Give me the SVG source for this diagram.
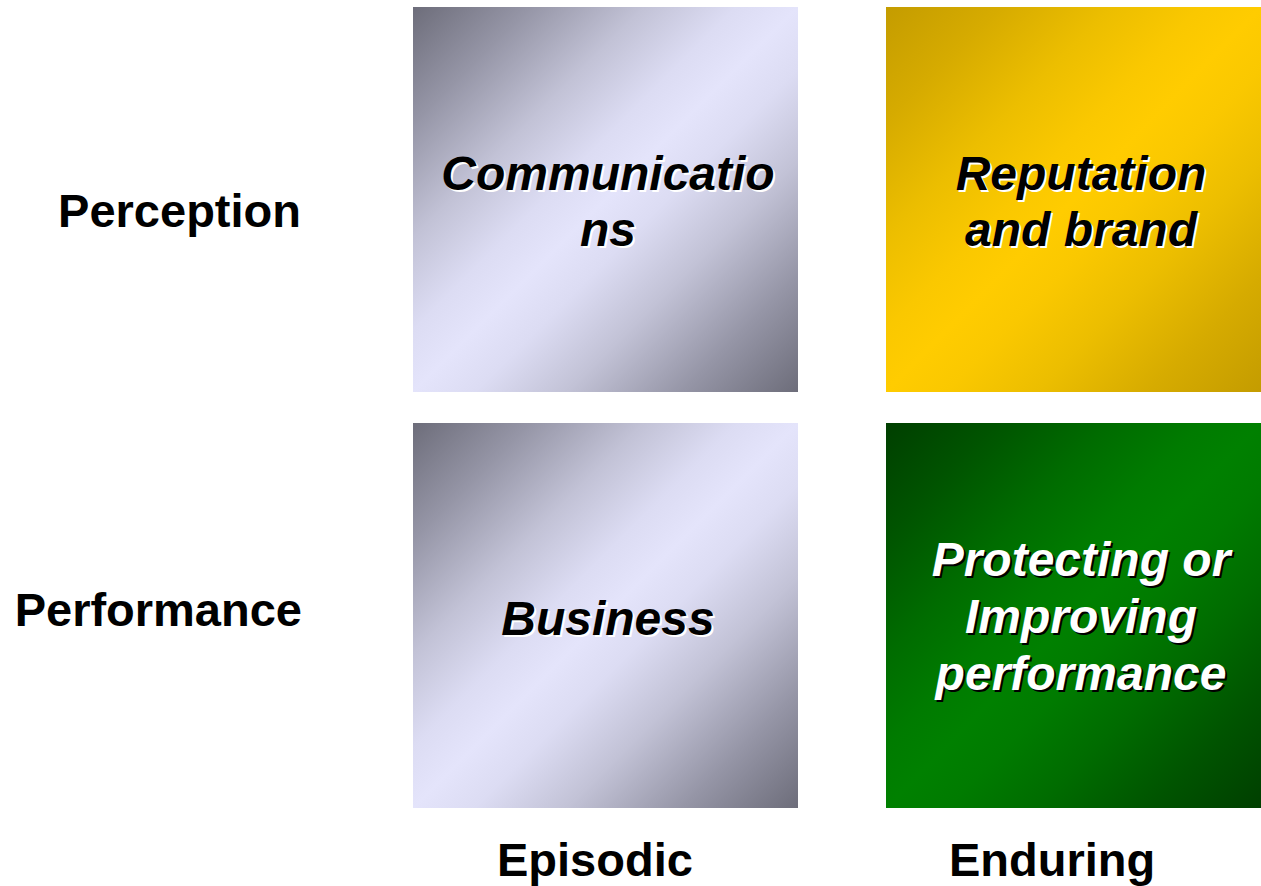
<svg xmlns="http://www.w3.org/2000/svg" width="1261" height="886" viewBox="0 0 1261 886">
<defs>
<linearGradient id="gGray" x1="0" y1="0" x2="1" y2="1">
<stop offset="0" stop-color="#6d6d7a"/>
<stop offset="0.15" stop-color="#9595a6"/>
<stop offset="0.3" stop-color="#c2c2d6"/>
<stop offset="0.42" stop-color="#dcdcf3"/>
<stop offset="0.5" stop-color="#e4e4fb"/>
<stop offset="0.58" stop-color="#dcdcf3"/>
<stop offset="0.7" stop-color="#c2c2d6"/>
<stop offset="0.85" stop-color="#9595a6"/>
<stop offset="1" stop-color="#6d6d7a"/>
</linearGradient>
<linearGradient id="gYellow" x1="0" y1="0" x2="1" y2="1">
<stop offset="0" stop-color="#c49c00"/>
<stop offset="0.15" stop-color="#d6ab00"/>
<stop offset="0.3" stop-color="#ecbe00"/>
<stop offset="0.42" stop-color="#fac800"/>
<stop offset="0.5" stop-color="#ffcc00"/>
<stop offset="0.58" stop-color="#fac800"/>
<stop offset="0.7" stop-color="#ecbe00"/>
<stop offset="0.85" stop-color="#d6ab00"/>
<stop offset="1" stop-color="#c49c00"/>
</linearGradient>
<linearGradient id="gGreen" x1="0" y1="0" x2="1" y2="1">
<stop offset="0" stop-color="#003f00"/>
<stop offset="0.15" stop-color="#005400"/>
<stop offset="0.3" stop-color="#006c00"/>
<stop offset="0.42" stop-color="#007b00"/>
<stop offset="0.5" stop-color="#008000"/>
<stop offset="0.58" stop-color="#007b00"/>
<stop offset="0.7" stop-color="#006c00"/>
<stop offset="0.85" stop-color="#005400"/>
<stop offset="1" stop-color="#003f00"/>
</linearGradient>
</defs>
<style>
.lbl{font-family:"Liberation Sans",Arial,sans-serif;font-weight:bold;font-size:47px;fill:#000}
.bx{font-family:"Liberation Sans",Arial,sans-serif;font-weight:bold;font-style:italic;font-size:48px;text-anchor:middle}
.dk{fill:#000}
.lt{fill:#fff}
</style>
<rect width="1261" height="886" fill="#fff"/>
<g id="connectors"></g>
<g id="row-perception"><text class="lbl" x="301" y="227" text-anchor="end">Perception</text></g>
<g id="row-performance"><text class="lbl" x="302" y="626" text-anchor="end">Performance</text></g>
<g id="col-episodic"><text class="lbl" x="497" y="876">Episodic</text></g>
<g id="col-enduring"><text class="lbl" x="949" y="876">Enduring</text></g>
<g id="communications">
<rect x="413" y="7" width="385" height="385" fill="url(#gGray)"/>
<text class="bx lt" x="610" y="192">Communicatio</text>
<text class="bx lt" x="610" y="248">ns</text>
<text class="bx dk" x="608" y="190">Communicatio</text>
<text class="bx dk" x="608" y="246">ns</text>
</g>
<g id="reputation">
<rect x="886" y="7" width="375" height="385" fill="url(#gYellow)"/>
<text class="bx lt" x="1083" y="192">Reputation</text>
<text class="bx lt" x="1083" y="248">and brand</text>
<text class="bx dk" x="1081" y="190">Reputation</text>
<text class="bx dk" x="1081" y="246">and brand</text>
</g>
<g id="business">
<rect x="413" y="423" width="385" height="385" fill="url(#gGray)"/>
<text class="bx lt" x="610" y="637">Business</text>
<text class="bx dk" x="608" y="635">Business</text>
</g>
<g id="protecting">
<rect x="886" y="423" width="375" height="385" fill="url(#gGreen)"/>
<text class="bx dk" x="1083" y="578">Protecting or</text>
<text class="bx dk" x="1083" y="635">Improving</text>
<text class="bx dk" x="1083" y="692">performance</text>
<text class="bx lt" x="1081" y="576">Protecting or</text>
<text class="bx lt" x="1081" y="633">Improving</text>
<text class="bx lt" x="1081" y="690">performance</text>
</g>
</svg>
